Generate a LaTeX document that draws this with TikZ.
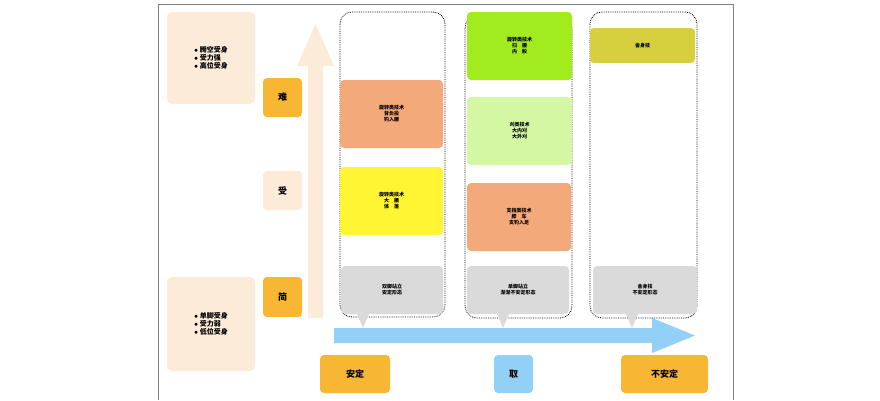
\documentclass[tikz,border=0pt]{standalone}
\usepackage{fontspec}
\setmainfont{Noto Sans CJK SC}
\usetikzlibrary{positioning}
\definecolor{peach}{HTML}{FDEBD9}
\definecolor{gold}{HTML}{F7B733}
\definecolor{salmon}{HTML}{F4A97A}
\definecolor{lemon}{HTML}{FFF533}
\definecolor{lime}{HTML}{A2EB1F}
\definecolor{mint}{HTML}{D4F7A4}
\definecolor{olive}{HTML}{D6D03F}
\definecolor{sky}{HTML}{92D0F8}
\definecolor{stone}{HTML}{DADADA}
\tikzset{
  tech/.style={rounded corners=4pt, align=center, font=\tiny\bfseries, inner sep=0pt},
  tag/.style={rounded corners=4pt, fill=gold, font=\small\bfseries, inner sep=0pt},
  column/.style={draw, densely dotted, thick, rounded corners=12pt},
}
\begin{document}
\begin{tikzpicture}[x=1pt,y=-1pt]
    \useasboundingbox (0,0) rectangle (880,400);
    % Frame
    \draw[gray] (158,4) -- (733,4) -- (733,400);
    \draw[gray] (158,4) -- (158,400);

    % Left notes
    \fill[peach, rounded corners=5pt] (167,12) rectangle (255,104);
    \node[align=left, font=\scriptsize\bfseries] (hard) at (211,58) {$\bullet$\ 腾空受身\\$\bullet$\ 受力强\\$\bullet$\ 高位受身};
    \fill[peach, rounded corners=5pt] (167,277) rectangle (255,371);
    \node[align=left, font=\scriptsize\bfseries] (easy) at (211,324) {$\bullet$\ 单脚受身\\$\bullet$\ 受力弱\\$\bullet$\ 低位受身};

    % Scale tags
    \node[tag, minimum width=39pt, minimum height=39pt] (nan) at (282.5,97.5) {难};
    \node[tag, fill=peach, minimum width=39pt, minimum height=39pt] (shou) at (282.5,190.5) {受};
    \node[tag, minimum width=39pt, minimum height=40pt] (jian) at (282.5,297) {简};

    % Up arrow
    \fill[peach] (308,318) -- (308,66) -- (297,66) -- (315.5,24) -- (334,66) -- (323,66) -- (323,318) -- cycle;

    % Right arrow
    \fill[sky] (334,328) -- (652,328) -- (652,318) -- (695,335.5) -- (652,353) -- (652,343) -- (334,343) -- cycle;

    % Columns
    \draw[column] (340,12) rectangle (445,317);
    \draw[column] (465,16) rectangle (572,318);
    \draw[column] (590,12) rectangle (697,318);

    % Column 1
    \fill[salmon, rounded corners=4pt] (340,80) rectangle (443,148);
    \node[tech] (sei) at (391.5,114) {旋转类技术\\背负投\\钓入腰};
    \fill[lemon, rounded corners=4pt] (340,167) rectangle (443,235);
    \node[tech] (ogo) at (391.5,201) {旋转类技术\\大\quad 腰\\体\quad 落};
    \fill[stone, rounded corners=4pt] (341,266) rectangle (443,314);
    \fill[stone] (357,314) -- (363,328) -- (369,314) -- cycle;
    \node[tech] (two) at (392,290) {双脚站立\\安定形态};

    % Column 2
    \fill[lime, rounded corners=4pt] (467,12) rectangle (572,80);
    \node[tech] (hane) at (519.5,46) {旋转类技术\\扫\quad 腰\\内\quad 股};
    \fill[mint, rounded corners=4pt] (467,97) rectangle (572,165);
    \node[tech] (gari) at (519.5,131) {刈类技术\\大内刈\\大外刈};
    \fill[salmon, rounded corners=4pt] (467,183) rectangle (571,251);
    \node[tech] (sasae) at (519,217) {支挡类技术\\膝\quad 车\\支钓入足};
    \fill[stone, rounded corners=4pt] (467,266) rectangle (569,314);
    \fill[stone] (497,314) -- (503,328) -- (509,314) -- cycle;
    \node[tech] (one) at (518,290) {单脚站立\\渐渐不安定形态};

    % Column 3
    \fill[olive, rounded corners=4pt] (590,28) rectangle (695,63);
    \node[tech] (sute) at (642.5,45.5) {舍身技};
    \fill[stone, rounded corners=4pt] (593,266) rectangle (697,314);
    \fill[stone] (626,314) -- (632,328) -- (638,314) -- cycle;
    \node[tech] (none) at (645,290) {舍身技\\不安定形态};

    % Bottom tags
    \node[tag, minimum width=70pt, minimum height=38pt] (stable) at (355,374) {安定};
    \node[tag, fill=sky, minimum width=39pt, minimum height=38pt] (take) at (513.5,374) {取};
    \node[tag, minimum width=87pt, minimum height=38pt] (unstable) at (664.5,374) {不安定};
\end{tikzpicture}
\end{document}
